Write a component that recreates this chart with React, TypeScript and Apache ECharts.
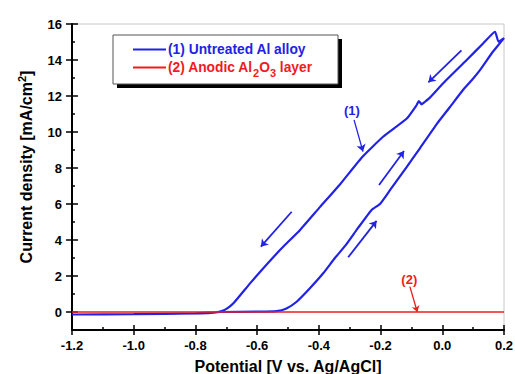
import React, { useEffect, useRef } from "react";
import * as echarts from "echarts";

// ---- data ----
const fwdPotential = [-1.2, -1.0, -0.8, -0.72, -0.6, -0.537, -0.505, -0.472, -0.429, -0.386, -0.348, -0.315, -0.273, -0.229, -0.202, -0.169, -0.115, -0.072, -0.018, 0.025, 0.067, 0.096, 0.122, 0.161, 0.187, 0.2];
const fwdCurrent = [-0.14, -0.12, -0.08, 0.0, 0.02, 0.05, 0.2, 0.57, 1.32, 2.15, 3.0, 3.67, 4.67, 5.67, 6.0, 6.78, 8.06, 9.11, 10.44, 11.39, 12.33, 12.89, 13.44, 14.39, 14.94, 15.22];
const revPotential = [0.182, 0.171, 0.133, 0.079, 0.003, -0.04, -0.056, -0.067, -0.076, -0.083, -0.115, -0.191, -0.26, -0.331, -0.396, -0.461, -0.526, -0.58, -0.623, -0.677, -0.697, -0.715, -0.733, -0.785, -0.947, -1.2];
const revCurrent = [15.02, 15.57, 14.93, 14.0, 12.71, 11.91, 11.68, 11.54, 11.72, 11.5, 10.75, 9.75, 8.6, 7.1, 5.84, 4.56, 3.44, 2.43, 1.59, 0.48, 0.2, 0.05, -0.02, -0.08, -0.11, -0.14];

const oxidePotential = [-1.2, 0.2];
const oxideCurrent = [0, 0];

const xTicks = [-1.2, -1.0, -0.8, -0.6, -0.4, -0.2, 0.0, 0.2];
const xMinorTicks = [-1.1, -0.9, -0.7, -0.5, -0.3, -0.1, 0.1];
const yTicks = [0, 2, 4, 6, 8, 10, 12, 14, 16];
const yMinorTicks = [1, 3, 5, 7, 9, 11, 13, 15];

// scan-direction arrows (from -> to, data coords)
const scanArrowFrom = [[0.062, 14.53], [-0.205, 7.06], [-0.488, 5.57], [-0.305, 3.04]];
const scanArrowTo = [[-0.045, 12.76], [-0.124, 8.94], [-0.588, 3.63], [-0.213, 5.06]];

// curve labels and pointers
const label1Pos = [-0.293, 11.22];
const label1From = [-0.286, 10.67];
const label1To = [-0.257, 8.91];
const label2Pos = [-0.107, 1.82];
const label2From = [-0.105, 1.41];
const label2To = [-0.081, 0.0];

const seriesNames = ["(1) Untreated Al alloy", "(2) Anodic Al2O3 layer"];

const BLUE = "#2222e4";
const RED = "#ee1c1c";
const FONT = "'Liberation Sans', Arial, sans-serif";

export default function App() {
  const ref = useRef<HTMLDivElement>(null);

  useEffect(() => {
    if (!ref.current) return;
    const chart = echarts.init(ref.current, null, { renderer: "svg" });

    const loop = [
      ...fwdPotential.map((x, i) => [x, fwdCurrent[i]]),
      ...revPotential.map((x, i) => [x, revCurrent[i]]),
    ];
    const oxide = oxidePotential.map((x, i) => [x, oxideCurrent[i]]);

    const fmtX = (v: number) => (Math.abs(v) < 1e-9 ? "0.0" : v.toFixed(1));

    const labelStyle = {
      fontFamily: FONT,
      fontWeight: "bold" as const,
      fontSize: 13,
      color: "#000",
    };

    const xBase = {
      type: "value" as const,
      min: -1.2,
      max: 0.2,
      position: "bottom" as const,
      offset: 0,
      splitLine: { show: false },
    };
    const yBase = {
      type: "value" as const,
      min: -1,
      max: 16,
      position: "left" as const,
      offset: 0,
      splitLine: { show: false },
    };

    const option: any = {
      animation: false,
      backgroundColor: "#ffffff",
      grid: {
        left: 72,
        right: 11,
        top: 24,
        bottom: 44,
        show: true,
        borderColor: "#c8c8c8",
        borderWidth: 1,
        containLabel: false,
        outerBoundsMode: "none",
      },
      xAxis: [
        {
          ...xBase,
          axisLine: { show: true, onZero: false, lineStyle: { color: "#000", width: 2 } },
          axisTick: { show: true, inside: false, length: 5, customValues: xTicks, lineStyle: { color: "#000", width: 1.5 } },
          axisLabel: { ...labelStyle, customValues: xTicks, margin: 9, formatter: fmtX },
          name: "Potential [V vs. Ag/AgCl]",
          nameLocation: "middle",
          nameGap: 28,
          nameTextStyle: { fontFamily: FONT, fontWeight: "bold", fontSize: 16, color: "#000" },
        },
        {
          ...xBase,
          axisLine: { show: false, onZero: false },
          axisTick: { show: true, inside: true, length: 5, customValues: xTicks, lineStyle: { color: "#000", width: 1.5 } },
          axisLabel: { show: false },
        },
        {
          ...xBase,
          axisLine: { show: false, onZero: false },
          axisTick: { show: true, inside: true, length: 3, customValues: xMinorTicks, lineStyle: { color: "#000", width: 1.5 } },
          axisLabel: { show: false },
        },
      ],
      yAxis: [
        {
          ...yBase,
          axisLine: { show: true, onZero: false, lineStyle: { color: "#000", width: 2 } },
          axisTick: { show: true, inside: false, length: 6, customValues: yTicks, lineStyle: { color: "#000", width: 1.5 } },
          axisLabel: { ...labelStyle, customValues: yTicks, margin: 10 },
          name: "Current density [mA/cm{sup|2}]",
          nameLocation: "middle",
          nameGap: 34,
          nameTextStyle: {
            fontFamily: FONT,
            fontWeight: "bold",
            fontSize: 16,
            color: "#000",
            lineHeight: 20,
            padding: [0, 0, 0, 20],
            rich: {
              sup: { fontFamily: FONT, fontWeight: "bold", fontSize: 11, color: "#000", lineHeight: 11, padding: [0, 0, 9, 0] },
            },
          },
        },
        {
          ...yBase,
          axisLine: { show: false, onZero: false },
          axisTick: { show: true, inside: true, length: 6, customValues: yTicks, lineStyle: { color: "#000", width: 1.5 } },
          axisLabel: { show: false },
        },
        {
          ...yBase,
          axisLine: { show: false, onZero: false },
          axisTick: { show: true, inside: true, length: 3, customValues: yMinorTicks, lineStyle: { color: "#000", width: 1.5 } },
          axisLabel: { show: false },
        },
      ],
      series: [
        {
          name: seriesNames[0],
          type: "line",
          xAxisIndex: 0,
          yAxisIndex: 0,
          data: loop,
          showSymbol: false,
          symbol: "none",
          smooth: 0.15,
          lineStyle: { color: BLUE, width: 2.2 },
          itemStyle: { color: BLUE },
          z: 3,
          markLine: {
            silent: true,
            symbol: ["none", "arrow"],
            symbolSize: 7,
            label: { show: false },
            lineStyle: { color: BLUE, width: 1.8, type: "solid" },
            data: [
              ...scanArrowFrom.map((f, i) => [
                { coord: f, lineStyle: { color: BLUE, width: 1.8, type: "solid" } },
                { coord: scanArrowTo[i] },
              ]),
              [
                { coord: label1From, lineStyle: { color: BLUE, width: 1.3, type: "solid" } },
                { coord: label1To },
              ],
            ],
          },
          markPoint: {
            silent: true,
            data: [
              {
                coord: label1Pos,
                symbol: "rect",
                symbolSize: 1,
                itemStyle: { color: "rgba(0,0,0,0)" },
                label: { show: true, position: "inside", formatter: "(1)", color: BLUE, fontFamily: FONT, fontWeight: "bold", fontSize: 13 },
              },
            ],
          },
        },
        {
          name: seriesNames[1],
          type: "line",
          xAxisIndex: 0,
          yAxisIndex: 0,
          data: oxide,
          showSymbol: false,
          symbol: "none",
          lineStyle: { color: RED, width: 1.6 },
          itemStyle: { color: RED },
          z: 4,
          markLine: {
            silent: true,
            symbol: ["none", "arrow"],
            symbolSize: 6,
            label: { show: false },
            lineStyle: { color: RED, width: 1.3, type: "solid" },
            data: [
              [
                { coord: label2From, lineStyle: { color: RED, width: 1.3, type: "solid" } },
                { coord: label2To },
              ],
            ],
          },
          markPoint: {
            silent: true,
            data: [
              {
                coord: label2Pos,
                symbol: "rect",
                symbolSize: 1,
                itemStyle: { color: "rgba(0,0,0,0)" },
                label: { show: true, position: "inside", formatter: "(2)", color: RED, fontFamily: FONT, fontWeight: "bold", fontSize: 13 },
              },
            ],
          },
        },
      ],
      graphic: [
        { type: "rect", z: 100, shape: { x: 117, y: 39, width: 225, height: 49 }, style: { fill: "#000" } },
        { type: "rect", z: 101, shape: { x: 113, y: 35, width: 225, height: 49 }, style: { fill: "#fff", stroke: "#555", lineWidth: 1 } },
        { type: "line", z: 102, shape: { x1: 133, y1: 49.5, x2: 166, y2: 49.5 }, style: { stroke: BLUE, lineWidth: 2 } },
        { type: "line", z: 102, shape: { x1: 133, y1: 67.5, x2: 166, y2: 67.5 }, style: { stroke: RED, lineWidth: 2 } },
        {
          type: "text",
          z: 102,
          x: 168,
          y: 49.5,
          style: {
            text: seriesNames[0],
            fill: BLUE,
            font: `bold 13.8px ${FONT}`,
            verticalAlign: "middle",
            align: "left",
          },
        },
        {
          type: "text",
          z: 102,
          x: 168,
          y: 67.5,
          style: {
            text: "{t|(2) Anodic Al}{sub|2}{t|O}{sub|3}{t| layer}",
            verticalAlign: "middle",
            align: "left",
            rich: {
              t: { fill: RED, fontFamily: FONT, fontWeight: "bold", fontSize: 13.8, lineHeight: 20 },
              sub: { fill: RED, fontFamily: FONT, fontWeight: "bold", fontSize: 11, lineHeight: 10, padding: [10, 0, 0, 0] },
            },
          },
        },
      ],
    };

    chart.setOption(option);
    return () => chart.dispose();
  }, []);

  return (
    <div
      ref={ref}
      style={{ position: "absolute", left: 0, top: 0, width: 515, height: 374, background: "#fff" }}
    />
  );
}
